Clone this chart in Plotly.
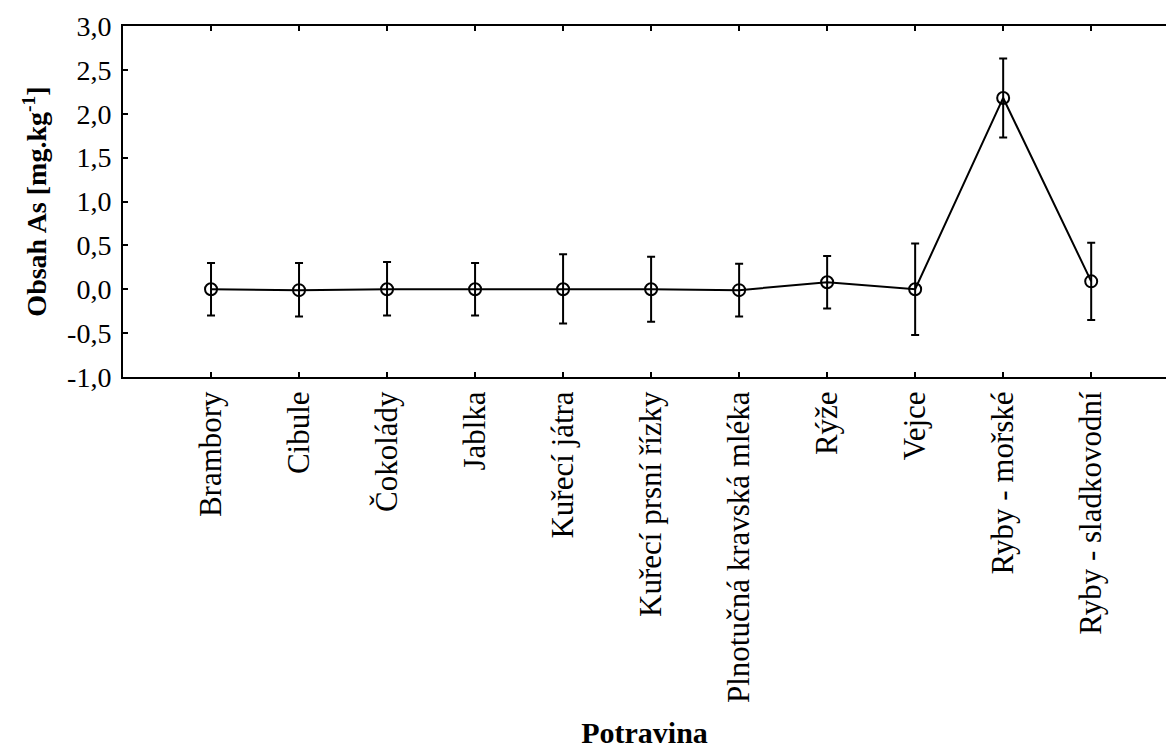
import plotly.graph_objects as go

categories = ["Brambory", "Cibule", "Čokolády", "Jablka", "Kuřecí játra",
              "Kuřecí prsní řízky", "Plnotučná kravská mléka", "Rýže", "Vejce",
              "Ryby - mořské", "Ryby - sladkovodní"]
means = [0.0, -0.01, 0.0, 0.0, 0.0, 0.0, -0.01, 0.08, 0.0, 2.18, 0.09]
err_plus = [0.30, 0.31, 0.31, 0.30, 0.40, 0.37, 0.30, 0.30, 0.52, 0.45, 0.44]
err_minus = [0.30, 0.30, 0.30, 0.30, 0.39, 0.37, 0.30, 0.30, 0.52, 0.45, 0.44]
y_tickvals = [-1.0, -0.5, 0.0, 0.5, 1.0, 1.5, 2.0, 2.5, 3.0]
y_ticktext = ["-1,0", "-0,5", "0,0", "0,5", "1,0", "1,5", "2,0", "2,5", "3,0"]

FONT = "Liberation Serif, Times New Roman, serif"

fig = go.Figure()
fig.add_trace(go.Scatter(
    x=categories, y=means, mode="lines+markers",
    line=dict(color="black", width=2),
    marker=dict(symbol="circle-open", size=12, color="black", line=dict(width=2)),
    error_y=dict(type="data", array=err_plus, arrayminus=err_minus,
                 color="black", thickness=2, width=4),
    showlegend=False,
))

fig.update_layout(
    width=1166, height=749,
    margin=dict(l=123, r=0, t=26, b=372),
    paper_bgcolor="white", plot_bgcolor="white",
    font=dict(family=FONT, color="black"),
)
fig.update_xaxes(
    type="category", range=[-1, 10.85],
    showline=True, linecolor="black", linewidth=2, mirror="ticks",
    ticks="inside", ticklen=5, tickwidth=2, tickcolor="black",
    tickangle=-90, tickfont=dict(family=FONT, size=31, color="black"),
    showgrid=False, zeroline=False, automargin=False,
    title=dict(text="<b>Potravina</b>", font=dict(family=FONT, size=30, color="black"), standoff=31),
)
fig.update_yaxes(
    range=[-1, 3], tickvals=y_tickvals, ticktext=y_ticktext,
    showline=True, linecolor="black", linewidth=2, mirror=False,
    ticks="inside", ticklen=5, tickwidth=2, tickcolor="black",
    tickfont=dict(family=FONT, size=28, color="black"), ticklabelstandoff=4,
    showgrid=False, zeroline=False, automargin=False,
    title=dict(text="<b>Obsah As [mg.kg<sup>-1</sup>]</b>", font=dict(family=FONT, size=28, color="black"), standoff=12),
)

fig.write_html("out.html", config={"displayModeBar": False},
               post_script="document.body.style.margin='0';")
